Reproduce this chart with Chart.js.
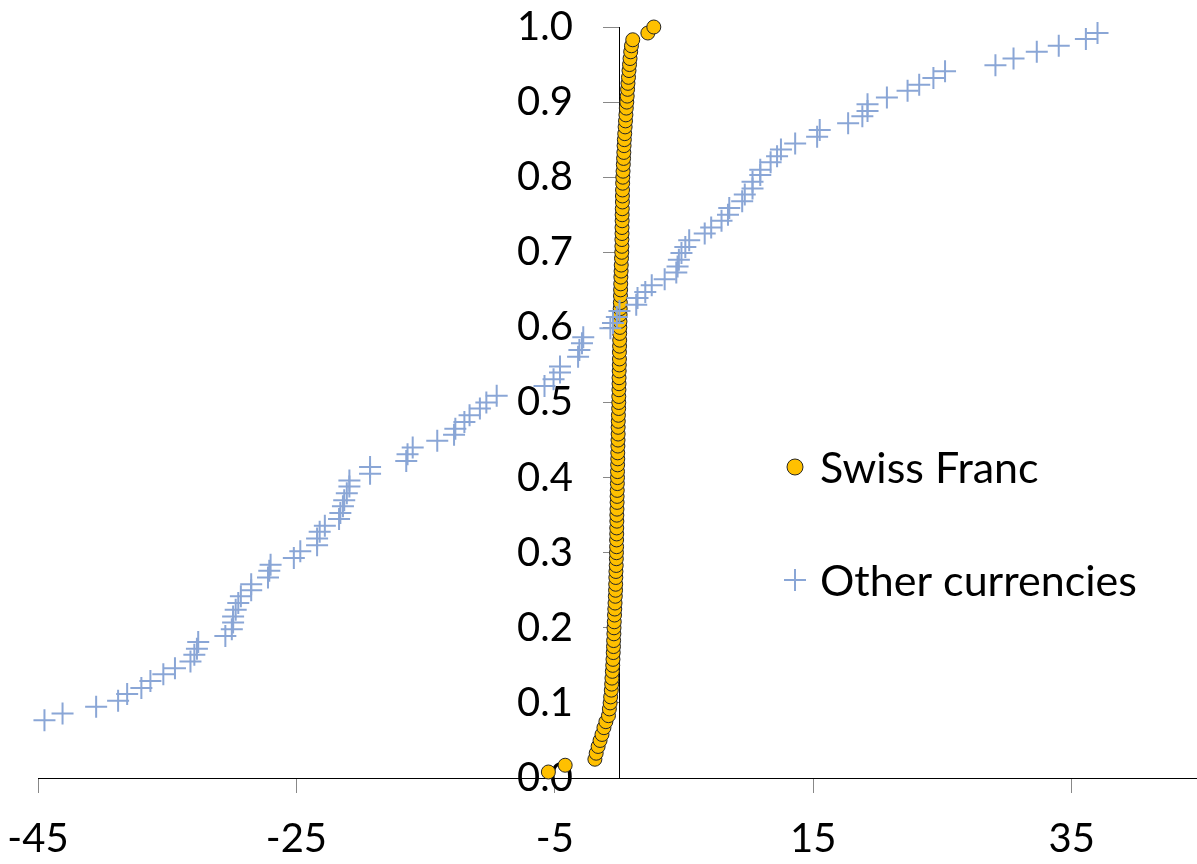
<!DOCTYPE html>
<html>
<head>
<meta charset="utf-8">
<script src="https://cdn.jsdelivr.net/npm/chart.js@4.4.0/dist/chart.umd.min.js"></script>
<style>
  html, body { margin: 0; padding: 0; background: #fff; overflow: hidden; }
  #wrap { width: 1197px; height: 864px; position: relative; }
  #myChart { display: block; }
</style>
</head>
<body>
<div id="wrap"><canvas id="myChart"></canvas></div>
<script>
// ---- data ----
let xTicks = [-45, -25, -5, 15, 35];
let yTicks = [0, 0.1, 0.2, 0.3, 0.4, 0.5, 0.6, 0.7, 0.8, 0.9, 1.0];

let swissX = [
  -5.5, -4.2, -1.9, -1.8, -1.65, -1.5, -1.35, -1.2, -1.05, -0.85, -0.78, -0.72,
  -0.68, -0.63, -0.6, -0.58, -0.55, -0.52, -0.5, -0.48, -0.46, -0.45, -0.43, -0.42,
  -0.40, -0.38, -0.36, -0.34, -0.32, -0.30, -0.29, -0.28, -0.27, -0.25, -0.24, -0.23,
  -0.22, -0.22, -0.21, -0.21, -0.2, -0.2, -0.19, -0.18, -0.18, -0.17, -0.16, -0.15,
  -0.15, -0.14, -0.13, -0.13, -0.12, -0.11, -0.1, -0.1, -0.09, -0.08, -0.06, -0.05,
  -0.05, -0.04, -0.03, -0.03, -0.02, -0.01, 0, 0, 0.01, 0.02, 0.02, 0.03,
  0.04, 0.05, 0.06, 0.07, 0.08, 0.09, 0.1, 0.11, 0.13, 0.14, 0.16, 0.18,
  0.19, 0.19, 0.2, 0.2, 0.21, 0.21, 0.22, 0.23, 0.23, 0.24, 0.25, 0.26,
  0.28, 0.3, 0.32, 0.34, 0.36, 0.38, 0.41, 0.44, 0.47, 0.5, 0.53, 0.57,
  0.6, 0.63, 0.66, 0.7, 0.74, 0.78, 0.82, 0.87, 0.93, 1.03, 2.2, 2.66
];
let swissY = [
  0.008, 0.017, 0.025, 0.033, 0.042, 0.050, 0.058, 0.067, 0.075, 0.083, 0.092, 0.100,
  0.108, 0.117, 0.125, 0.133, 0.142, 0.150, 0.158, 0.167, 0.175, 0.183, 0.192, 0.200,
  0.208, 0.217, 0.225, 0.233, 0.242, 0.250, 0.258, 0.267, 0.275, 0.283, 0.292, 0.300,
  0.308, 0.317, 0.325, 0.333, 0.342, 0.350, 0.358, 0.367, 0.375, 0.383, 0.392, 0.400,
  0.408, 0.417, 0.425, 0.433, 0.442, 0.450, 0.458, 0.467, 0.475, 0.483, 0.492, 0.500,
  0.508, 0.517, 0.525, 0.533, 0.542, 0.550, 0.558, 0.567, 0.575, 0.583, 0.592, 0.600,
  0.608, 0.617, 0.625, 0.633, 0.642, 0.650, 0.658, 0.667, 0.675, 0.683, 0.692, 0.700,
  0.708, 0.717, 0.725, 0.733, 0.742, 0.750, 0.758, 0.767, 0.775, 0.783, 0.792, 0.800,
  0.808, 0.817, 0.825, 0.833, 0.842, 0.850, 0.858, 0.867, 0.875, 0.883, 0.892, 0.900,
  0.908, 0.917, 0.925, 0.933, 0.942, 0.950, 0.958, 0.967, 0.975, 0.983, 0.992, 1.000
];

let otherX = [
  -44.5, -43.1, -40.5, -38.8, -38.1, -37.0, -36.3, -35.3, -34.4, -33.2,
  -32.9, -32.7, -32.6, -30.5, -30.0, -29.9, -29.9, -29.7, -29.5, -29.3,
  -28.5, -28.5, -27.2, -27.1, -27.0, -25.2, -24.7, -23.4, -23.4, -23.2,
  -22.8, -21.7, -21.6, -21.4, -21.3, -21.1, -20.9, -20.9, -19.3, -19.3,
  -16.5, -16.4, -16.0, -14.1, -12.8, -12.7, -12.0, -11.6, -10.8, -10.3,
  -9.5, -5.8, -5.1, -4.6, -4.6, -3.2, -3.1, -2.9, -2.8, -0.7,
  -0.5, -0.2, 0.0, 1.3, 1.4, 2.0, 2.5, 3.5, 4.4, 4.5,
  4.6, 4.8, 5.1, 5.4, 6.6, 7.1, 7.9, 8.4, 8.5, 9.5,
  9.7, 10.3, 10.3, 10.9, 10.9, 11.7, 12.2, 12.5, 13.6, 15.3,
  15.5, 17.7, 18.8, 19.2, 19.2, 20.7, 22.3, 23.2, 24.3, 25.2,
  29.1, 30.5, 32.3, 34.0, 36.1, 37.0
];
let otherY = [
  0.077, 0.086, 0.095, 0.103, 0.112, 0.120, 0.129, 0.138, 0.146, 0.155,
  0.164, 0.172, 0.181, 0.189, 0.198, 0.207, 0.215, 0.224, 0.233, 0.242,
  0.250, 0.258, 0.267, 0.276, 0.284, 0.293, 0.302, 0.310, 0.319, 0.328,
  0.336, 0.345, 0.353, 0.362, 0.370, 0.379, 0.388, 0.396, 0.405, 0.414,
  0.422, 0.431, 0.440, 0.449, 0.457, 0.465, 0.474, 0.483, 0.492, 0.500,
  0.509, 0.522, 0.531, 0.540, 0.548, 0.561, 0.570, 0.579, 0.587, 0.599,
  0.606, 0.614, 0.622, 0.630, 0.639, 0.647, 0.656, 0.664, 0.673, 0.681,
  0.690, 0.699, 0.707, 0.716, 0.725, 0.733, 0.742, 0.750, 0.759, 0.768,
  0.777, 0.785, 0.794, 0.803, 0.810, 0.820, 0.828, 0.837, 0.845, 0.854,
  0.863, 0.872, 0.881, 0.888, 0.897, 0.906, 0.915, 0.923, 0.932, 0.941,
  0.949, 0.958, 0.967, 0.975, 0.984, 0.992
];

let seriesNames = ['Swiss Franc', 'Other currencies'];

function toPoints(xs, ys) {
  let pts = [];
  for (let i = 0; i < xs.length; i++) {
    pts.push({ x: xs[i], y: ys[i] });
  }
  return pts;
}

let fontName = 'Lato, "Open Sans", sans-serif';
let tickFont = { family: fontName, size: 40 };

// legend drawn inside the plot, on the right
let insideLegend = {
  id: 'insideLegend',
  afterDraw(chart) {
    let ctx = chart.ctx;
    let ds = chart.data.datasets;
    let rows = [467, 580];
    ctx.save();
    ctx.font = '43px ' + fontName;
    ctx.textBaseline = 'middle';
    ctx.textAlign = 'left';
    for (let i = 0; i < ds.length; i++) {
      let d = ds[i];
      let y = rows[i];
      if (d.pointStyle === 'cross') {
        ctx.strokeStyle = d.borderColor;
        ctx.lineWidth = d.borderWidth;
        ctx.beginPath();
        ctx.moveTo(784, y); ctx.lineTo(806, y);
        ctx.moveTo(795, y - 11); ctx.lineTo(795, y + 11);
        ctx.stroke();
      } else {
        ctx.fillStyle = d.backgroundColor;
        ctx.strokeStyle = d.borderColor;
        ctx.lineWidth = d.borderWidth;
        ctx.beginPath();
        ctx.arc(795, y, 8, 0, Math.PI * 2);
        ctx.fill();
        ctx.stroke();
      }
      ctx.fillStyle = '#000';
      ctx.fillText(d.label, 820, y + 2);
    }
    ctx.restore();
  }
};

let ctx = document.getElementById('myChart').getContext('2d');
let chart = new Chart(ctx, {
  type: 'scatter',
  data: {
    datasets: [
      {
        label: seriesNames[0],
        data: toPoints(swissX, swissY),
        pointStyle: 'circle',
        pointRadius: 7,
        backgroundColor: '#FFC000',
        borderColor: '#262626',
        borderWidth: 1,
        clip: false,
        order: 2
      },
      {
        label: seriesNames[1],
        data: toPoints(otherX, otherY),
        pointStyle: 'cross',
        pointRadius: 11,
        backgroundColor: '#8AA6D6',
        borderColor: '#8AA6D6',
        borderWidth: 2,
        clip: false,
        order: 1
      }
    ]
  },
  options: {
    responsive: true,
    maintainAspectRatio: false,
    animation: false,
    layout: { autoPadding: false, padding: { left: 38, top: 6, right: 0, bottom: -21 } },
    plugins: {
      legend: { display: false },
      tooltip: { enabled: false }
    },
    scales: {
      x: {
        type: 'linear',
        min: -45,
        max: 44.7,
        afterBuildTicks: function (axis) {
          axis.ticks = xTicks.map(v => ({ value: v }));
        },
        afterFit: function (axis) {
          axis.paddingLeft = 0;
          axis.paddingRight = 0;
        },
        grid: { drawOnChartArea: false, drawTicks: true, tickLength: 15, tickColor: '#888' },
        border: { display: true, color: '#000', width: 1 },
        ticks: { color: '#000', font: tickFont, padding: 22, maxRotation: 0 }
      },
      // axis line and tick marks at x = 0
      y: {
        type: 'linear',
        position: { x: 0 },
        min: 0,
        max: 1,
        afterBuildTicks: function (axis) {
          axis.ticks = yTicks.map(v => ({ value: v }));
        },
        grid: { drawOnChartArea: false, drawTicks: true, tickLength: 16, tickColor: '#888' },
        border: { display: true, color: '#000', width: 1 },
        ticks: { display: false }
      },
      // labels only, set a little to the left of the axis line
      yLab: {
        type: 'linear',
        position: { x: -3.6 },
        min: 0,
        max: 1,
        afterBuildTicks: function (axis) {
          axis.ticks = yTicks.map(v => ({ value: v }));
        },
        grid: { display: false },
        border: { display: false },
        ticks: {
          color: '#000',
          font: tickFont,
          callback: function (v) { return v.toFixed(1); }
        }
      }
    }
  },
  plugins: [insideLegend]
});
</script>
</body>
</html>
